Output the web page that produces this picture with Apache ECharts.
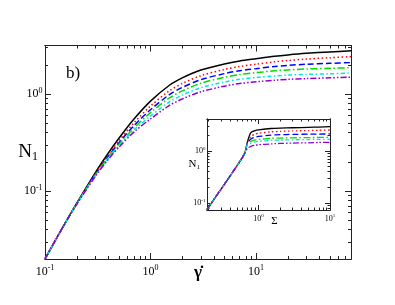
<!DOCTYPE html>
<html><head><meta charset="utf-8">
<script src="https://cdn.jsdelivr.net/npm/echarts@6/dist/echarts.min.js"></script>
<style>html,body{margin:0;padding:0;background:#fff}#c{width:395px;height:305px}</style>
</head><body><div id="c"></div>
<script>
// ---- main panel: N1 vs shear rate ----
const shearRate = [0.1,0.15,0.2,0.3,0.4,0.5,0.7,1,1.5,2,3,5,7,10,15,20,30,50,80];
const mainBlack  = [0.0200,0.0438,0.0750,0.155,0.248,0.348,0.555,0.845,1.224,1.465,1.765,2.040,2.193,2.312,2.449,2.529,2.624,2.716,2.793];
const mainRed    = [0.0200,0.0438,0.0746,0.152,0.2386,0.3289,0.5078,0.752,1.0747,1.283,1.546,1.789,1.923,2.028,2.145,2.213,2.291,2.366,2.430];
const mainBlue   = [0.0200,0.0438,0.0743,0.1491,0.2306,0.3132,0.4745,0.6887,0.9792,1.168,1.405,1.622,1.739,1.826,1.922,1.973,2.026,2.070,2.109];
const mainGreen  = [0.0200,0.0438,0.0739,0.1465,0.2244,0.3021,0.4496,0.6422,0.9058,1.077,1.292,1.485,1.588,1.660,1.734,1.770,1.811,1.839,1.866];
const mainCyan   = [0.0200,0.0438,0.0735,0.1442,0.2182,0.2906,0.4274,0.5915,0.8262,0.974,1.161,1.330,1.419,1.480,1.538,1.568,1.593,1.616,1.648];
const mainViolet = [0.0200,0.0438,0.0731,0.1418,0.2133,0.2819,0.4079,0.5535,0.7589,0.889,1.054,1.204,1.283,1.336,1.389,1.416,1.441,1.467,1.494];

// ---- inset: N1 vs Sigma ----
const stress = [0.19,0.25,0.3,0.4,0.5,0.6,0.65,0.7,0.75,0.8,0.9,1,1.5,2,3,5,7,10];
const insetBlack  = [0.075,0.13,0.185,0.33,0.52,0.76,0.95,1.48,2.0,2.3,2.45,2.52,2.68,2.73,2.77,2.82,2.86,2.9];
const insetRed    = [0.075,0.13,0.185,0.33,0.52,0.76,0.95,1.45,1.75,1.95,2.1,2.17,2.32,2.36,2.41,2.45,2.48,2.51];
const insetBlue   = [0.075,0.13,0.185,0.33,0.52,0.76,0.95,1.42,1.6,1.72,1.84,1.89,2.0,2.04,2.07,2.09,2.1,2.11];
const insetGreen  = [0.075,0.13,0.185,0.33,0.52,0.76,0.95,1.38,1.47,1.54,1.62,1.66,1.74,1.76,1.78,1.8,1.81,1.82];
const insetCyan   = [0.075,0.13,0.185,0.33,0.52,0.76,0.95,1.32,1.38,1.43,1.49,1.52,1.59,1.61,1.63,1.65,1.66,1.67];
const insetViolet = [0.075,0.13,0.185,0.33,0.52,0.76,0.93,1.12,1.19,1.24,1.28,1.31,1.36,1.39,1.41,1.43,1.45,1.46];

// tick decades (exponents)
const mainXDecades = [-1,0,1];
const mainYDecades = [-1,0];
const insetXDecades = [0,1];
const insetYDecades = [-1,0];

const mainXRange = [-1, 1.9];
const mainYRange = [-1.7, 0.5];
const insetXRange = [-0.72, 1];
const insetYRange = [-1.13, 0.61];

const styles = [
  {name:'black', color:'#000000', type:'solid'},
  {name:'red', color:'#ff0000', type:[1.5,2.5]},
  {name:'blue', color:'#0000ff', type:[6,3]},
  {name:'green', color:'#00dd00', type:[7,2.5,1.5,2.5]},
  {name:'cyan', color:'#00e5e5', type:[4,2.5,1.5,2.5]},
  {name:'violet', color:'#9400d3', type:[6,2,1.5,2,1.5,2]}
];

const serif = '"Liberation Serif","DejaVu Serif",serif';
const log = v => Math.log10(v);

function minorsFor(range){
  const out=[];
  for(let e=Math.floor(range[0])-1;e<=Math.ceil(range[1]);e++){
    for(let k=2;k<=9;k++){ const v=e+Math.log10(k); if(v>=range[0]-1e-9&&v<=range[1]+1e-9) out.push(v); }
  }
  return out;
}
function majorsFor(dec, range){ return dec.filter(v=>v>=range[0]&&v<=range[1]); }

function fmt(v){ const e=Math.round(v); return '{b|10}{s|'+e+'}'; }
function rich(fs){ return { b:{fontSize:fs,fontFamily:serif,color:'#000',lineHeight:fs+2}, s:{fontSize:Math.round(fs*0.68),fontFamily:serif,color:'#000',verticalAlign:'top',lineHeight:fs+2} }; }

const axisLine = {show:true,onZero:false,lineStyle:{color:'#222',width:1}};

function xAxes(grid, range, majors, minors, labelFs, name, nameOpts, majorLen, minorLen){
  const base = {type:'value',gridIndex:grid,min:range[0],max:range[1],splitLine:{show:false},axisLine:axisLine,nameMoveOverlap:false};
  const isMajor = grid%2===0;
  const ticks = isMajor ? majors : minors;
  const len = isMajor ? majorLen : minorLen;
  return [
    Object.assign({}, base, {position:'bottom',
      axisTick:{show:true,inside:true,length:len,customValues:ticks,lineStyle:{color:'#222'}},
      axisLabel: isMajor ? {show:true,customValues:majors,formatter:fmt,rich:rich(labelFs),margin:labelFs*0.45} : {show:false},
      name: isMajor ? name : '', nameLocation:'middle'}, isMajor ? nameOpts : {}),
    Object.assign({}, base, {position:'top',
      axisTick:{show:true,inside:true,length:len,customValues:ticks,lineStyle:{color:'#222'}},
      axisLabel:{show:false}})
  ];
}
function yAxes(grid, range, majors, minors, labelFs, name, nameOpts, majorLen, minorLen){
  const base = {type:'value',gridIndex:grid,min:range[0],max:range[1],splitLine:{show:false},axisLine:axisLine,nameMoveOverlap:false};
  const isMajor = grid%2===0;
  const ticks = isMajor ? majors : minors;
  const len = isMajor ? majorLen : minorLen;
  return [
    Object.assign({}, base, {position:'left',
      axisTick:{show:true,inside:true,length:len,customValues:ticks,lineStyle:{color:'#222'}},
      axisLabel: isMajor ? {show:true,customValues:majors,formatter:fmt,rich:rich(labelFs),margin:labelFs*0.2} : {show:false},
      name: isMajor ? name : '', nameLocation:'middle', nameRotate:0}, isMajor ? nameOpts : {}),
    Object.assign({}, base, {position:'right',
      axisTick:{show:true,inside:true,length:len,customValues:ticks,lineStyle:{color:'#222'}},
      axisLabel:{show:false}})
  ];
}

const mainRect = {left:45,top:45.5,width:306,height:213.5};
const insetRect = {left:207,top:119,width:123,height:91};

const mainXMaj = majorsFor(mainXDecades, mainXRange), mainXMin = minorsFor(mainXRange);
const mainYMaj = majorsFor(mainYDecades, mainYRange), mainYMin = minorsFor(mainYRange);
const insXMaj = majorsFor(insetXDecades, insetXRange), insXMin = minorsFor(insetXRange);
const insYMaj = majorsFor(insetYDecades, insetYRange), insYMin = minorsFor(insetYRange);

const N1name = '{n|N}{i|1}';
const mainXName = {nameGap:5, nameTextStyle:{fontFamily:serif,fontSize:17,fontWeight:'bold',color:'#000'}};
const mainYName = {nameGap:7, nameTextStyle:{rich:{n:{fontFamily:serif,fontSize:19,color:'#000',lineHeight:22},i:{fontFamily:serif,fontSize:12,color:'#000',verticalAlign:'bottom',lineHeight:22}}}};
const insXName = {nameGap:6, nameTextStyle:{fontFamily:serif,fontSize:11,color:'#000',padding:[0,0,0,12]}};
const insYName = {nameGap:7, nameTextStyle:{rich:{n:{fontFamily:serif,fontSize:11,color:'#000',lineHeight:13},i:{fontFamily:serif,fontSize:7,color:'#000',verticalAlign:'bottom',lineHeight:13}}}};

const xAxis = [].concat(
  xAxes(0, mainXRange, mainXMaj, mainXMin, 12, 'γ̇', mainXName, 6, 3),
  xAxes(1, mainXRange, mainXMaj, mainXMin, 12, '', {}, 6, 3),
  xAxes(2, insetXRange, insXMaj, insXMin, 8, 'Σ', insXName, 5, 2.5),
  xAxes(3, insetXRange, insXMaj, insXMin, 8, '', {}, 5, 2.5)
);
const yAxis = [].concat(
  yAxes(0, mainYRange, mainYMaj, mainYMin, 12, N1name, mainYName, 6, 3),
  yAxes(1, mainYRange, mainYMaj, mainYMin, 12, '', {}, 6, 3),
  yAxes(2, insetYRange, insYMaj, insYMin, 8, N1name, insYName, 5, 2.5),
  yAxes(3, insetYRange, insYMaj, insYMin, 8, '', {}, 5, 2.5)
);

function mk(xs, ys, st, axisIdx, w, sm){
  return {type:'line', xAxisIndex:axisIdx, yAxisIndex:axisIdx, showSymbol:false, symbol:'none',
    smooth:sm, clip:true, silent:true, animation:false,
    lineStyle:{color:st.color,width:w,type:st.type},
    data: xs.map((x,i)=>[log(x), log(ys[i])])};
}
const mainSets = [mainBlack,mainRed,mainBlue,mainGreen,mainCyan,mainViolet];
const insetSets = [insetBlack,insetRed,insetBlue,insetGreen,insetCyan,insetViolet];
const series = [];
mainSets.forEach((d,i)=>series.push(mk(shearRate,d,styles[i],0,1.5,0.3)));
insetSets.forEach((d,i)=>series.push(mk(stress,d,styles[i],4,1.3,0.15)));

const chart = echarts.init(document.getElementById('c'), null, {renderer:'canvas'});
chart.setOption({
  animation:false,
  backgroundColor:'#fff',
  title:{text:'b)', left:61, top:60, textStyle:{fontFamily:serif,fontSize:17,fontWeight:'normal',color:'#000'}},
  grid:[
    Object.assign({containLabel:false}, mainRect),
    Object.assign({containLabel:false}, mainRect),
    Object.assign({containLabel:false}, insetRect),
    Object.assign({containLabel:false}, insetRect)
  ],
  xAxis, yAxis, series
});
</script></body></html>
